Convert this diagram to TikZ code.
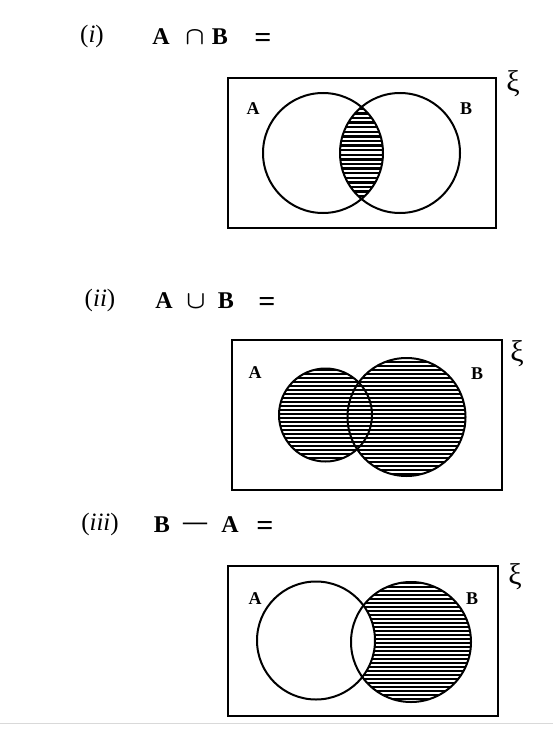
\documentclass[tikz,border=0pt]{standalone}
\usepackage{amsmath}
\usepackage{fontspec}
\setmainfont{Liberation Serif}
\tikzset{
  frame/.style={draw=black, line width=2pt},
  ring/.style={draw=black, line width=2pt},
  stripe/.style={draw=black, line width=2.7pt},
  lightstripe/.style={draw=black, line width=2.5pt},
  tag/.style={font=\fontsize{25}{28}\selectfont, inner sep=0pt},
  expr/.style={font=\fontsize{24}{28}\selectfont\bfseries, inner sep=0pt},
  eqsign/.style={font=\fontsize{30}{32}\selectfont\bfseries, inner sep=0pt},
  setlbl/.style={font=\fontsize{18}{21}\selectfont\bfseries, inner sep=0pt},
  xilbl/.style={font=\fontsize{30}{32}\selectfont, inner sep=0pt}
}
\begin{document}
\begin{tikzpicture}[x=1pt,y=-1pt]
\useasboundingbox[fill=white] (0,0) rectangle (553,752);

% ---------- (i) A cap B ----------
\node[tag] (t1) at (92,36) {(\textit{i})};
\node[expr] (t1a) at (161,37) {A};
\node[expr] (t1b) at (195,38) {$\boldsymbol{\cap}$};
\node[expr] (t1c) at (220,37) {B};
\node[eqsign] (t1d) at (263,40) {=};
\draw[frame] (228,78) rectangle (496,228);
\coordinate (a1) at (323,153);
\coordinate (b1) at (400,153);
\begin{scope}
  \clip (a1) circle (60);
  \clip (b1) circle (60);
  \foreach \yy in {95,99.6,...,214} \draw[lightstripe] (330,\yy) -- (395,\yy);
\end{scope}
\draw[ring] (a1) circle (60);
\draw[ring] (b1) circle (60);
\node[setlbl] (la1) at (253,109) {A};
\node[setlbl] (lb1) at (466,109) {B};
\node[xilbl] (x1) at (513,84) {ξ};

% ---------- (ii) A cup B ----------
\node[tag] (t2) at (100,300) {(\textit{ii})};
\node[expr] (t2a) at (164,301) {A};
\node[expr] (t2b) at (196,302) {$\boldsymbol{\cup}$};
\node[expr] (t2c) at (226,301) {B};
\node[eqsign] (t2d) at (267,304) {=};
\draw[frame] (232,340) rectangle (502,490);
\coordinate (a2) at (325.5,415);
\coordinate (b2) at (406.5,417);
\begin{scope}
  \clip (a2) circle (46.5) (b2) circle (59);
  \foreach \yy in {358,362,...,478} \draw[stripe] (275,\yy) -- (470,\yy);
\end{scope}
\draw[ring] (a2) circle (46.5);
\draw[ring] (b2) circle (59);
\node[setlbl] (la2) at (255,373) {A};
\node[setlbl] (lb2) at (477,374) {B};
\node[xilbl] (x2) at (517,354) {ξ};

% ---------- (iii) B - A ----------
\node[tag] (t3) at (100,524) {(\textit{iii})};
\node[expr] (t3a) at (162,525) {B};
\node[expr] (t3b) at (195,526) {---};
\node[expr] (t3c) at (230,525) {A};
\node[eqsign] (t3d) at (265,528) {=};
\draw[frame] (228,566) rectangle (498,716);
\coordinate (a3) at (316,640.5);
\coordinate (b3) at (411,642);
\begin{scope}[even odd rule]
  \clip (b3) circle (60);
  \clip (b3) circle (60) (a3) circle (59);
  \foreach \yy in {583,587,...,703} \draw[stripe] (345,\yy) -- (475,\yy);
\end{scope}
\draw[ring] (a3) circle (59);
\draw[ring] (b3) circle (60);
\node[setlbl] (la3) at (255,599) {A};
\node[setlbl] (lb3) at (472,599) {B};
\node[xilbl] (x3) at (515,577) {ξ};

% screenshot edge line
\coordinate (e1) at (0,723);
\coordinate (e2) at (553,723);
\draw[black!15, line width=0.8pt] (e1) -- (e2);
\end{tikzpicture}
\end{document}
